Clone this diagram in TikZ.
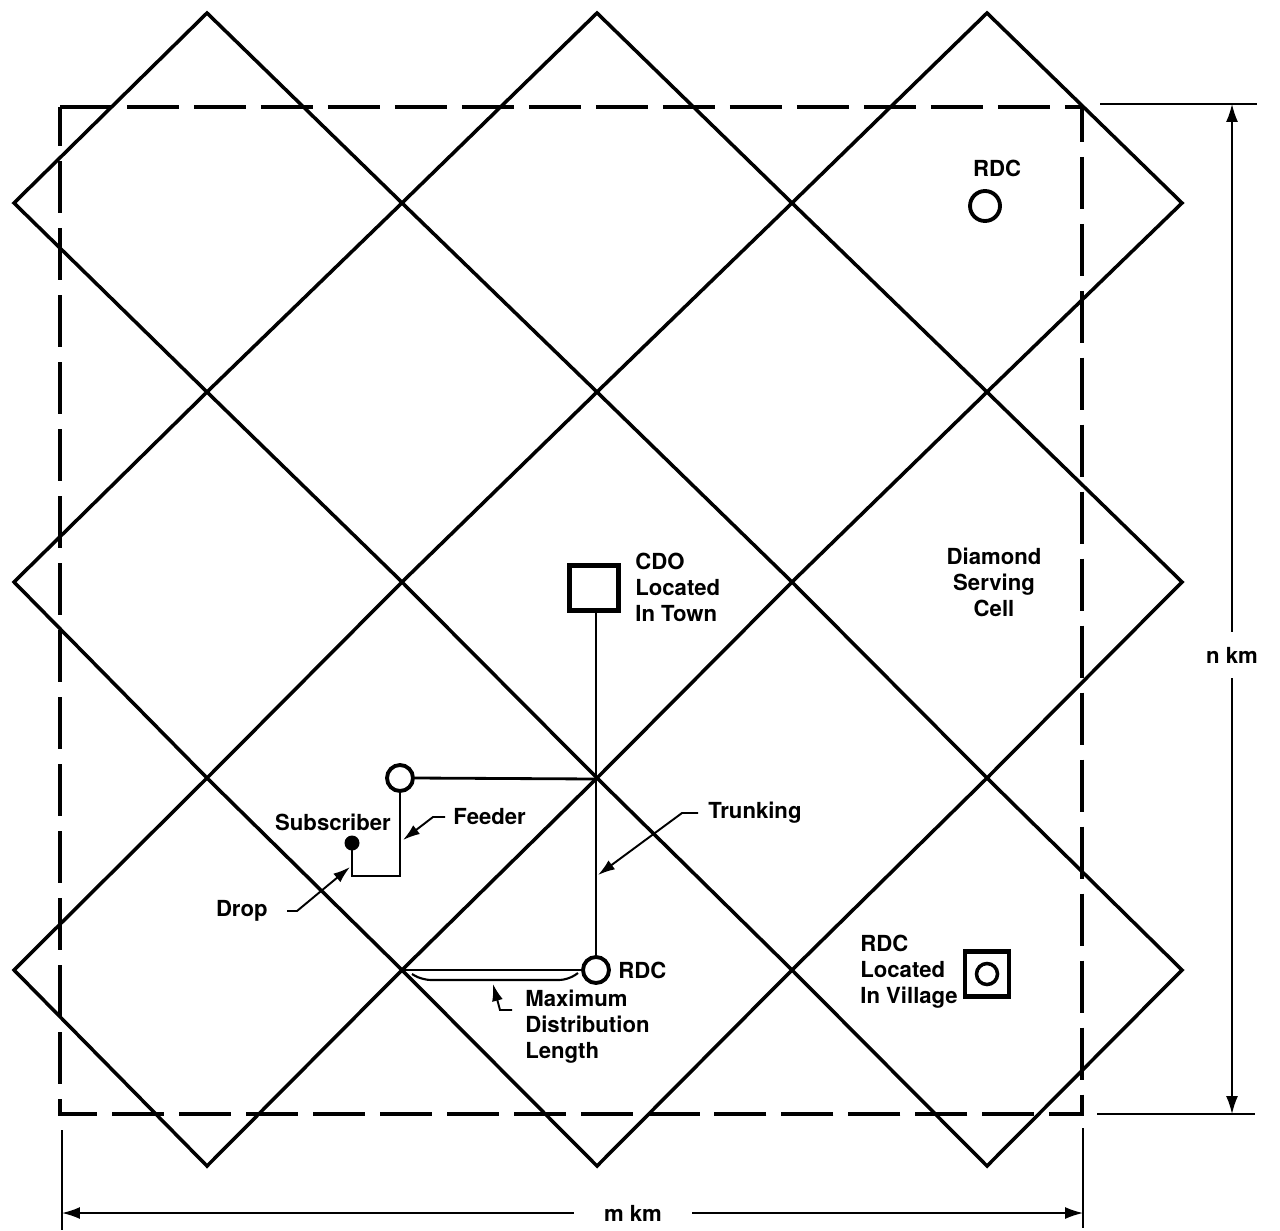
\documentclass[tikz,border=0pt]{standalone}
\usepackage{fontspec}
\setmainfont{TeX Gyre Heros}
\usetikzlibrary{arrows.meta}
\begin{document}
\begin{tikzpicture}[x=0.02cm,y=-0.02cm,
  grid/.style={line width=2pt, line join=miter},
  frame/.style={line width=2.4pt, dash pattern=on 1.04cm off 0.3cm},
  wire/.style={line width=1.6pt},
  lbl/.style={font=\bfseries\fontsize{12.6}{14.8}\selectfont, inner sep=0pt},
  leader/.style={line width=1.1pt, -{Latex[length=0.34cm,width=0.22cm]}},
  dimline/.style={line width=0.9pt},
  dimarr/.style={line width=0.9pt, -{Latex[length=0.36cm,width=0.24cm]}},
  office/.style={draw, line width=2.4pt, inner sep=0pt},
  rdc/.style={circle, draw, line width=2.2pt, inner sep=0pt, minimum size=0.52cm},
]
\useasboundingbox (0,0) rectangle (1280,1230);

% diamond serving cells
\foreach \xl/\xc/\xr in {14/207/402, 402/597/792, 792/987/1182}
  \foreach \yt/\yc/\yb in {13/203/392, 392/582/778, 778/970/1166}
    \draw[grid] (\xl,\yc) -- (\xc,\yt) -- (\xr,\yc) -- (\xc,\yb) -- cycle;

% dashed study area
\draw[frame] (60,107) -- (1082,107) -- (1082,1114) -- (60,1114) -- cycle;

% extension lines
\draw[dimline] (1100,104) -- (1257,104);
\draw[dimline] (1097,1114) -- (1255,1114);
\draw[dimline] (62,1130) -- (62,1230);
\draw[dimline] (1083,1128) -- (1083,1228);

% dimensions
\coordinate (ntop) at (1232,104);
\coordinate (nbot) at (1232,1114);
\coordinate (mleft) at (62,1213);
\coordinate (mright) at (1083,1213);
\node[lbl, inner xsep=0pt, inner ysep=0.3cm] (nkm) at (1232,655) {n km};
\node[lbl, inner xsep=0.6cm, inner ysep=0pt] (mkm) at (633,1213) {m km};
\draw[dimarr] (nkm) -- (ntop);
\draw[dimarr] (nkm) -- (nbot);
\draw[dimarr] (mkm) -- (mleft);
\draw[dimarr] (mkm) -- (mright);

% offices
\node[office, minimum width=0.98cm, minimum height=0.9cm] (cdo) at (594,588) {};
\node[lbl, anchor=north west, align=left] (cdolbl) at (635,553) {CDO\\Located\\In Town};

\node[rdc] (rdcb) at (596,970) {};
\node[lbl, anchor=west] (rdcblbl) at (618,970) {RDC};

\node[rdc] (rdcl) at (400,778) {};

\node[rdc, minimum size=0.6cm] (rdct) at (985,206) {};
\node[lbl] (rdctlbl) at (997,168) {RDC};

\node[office, minimum width=0.88cm, minimum height=0.9cm] (vbox) at (987,974) {};
\node[circle, draw, line width=2pt, inner sep=0pt, minimum size=0.42cm] (vrdc) at (987,974) {};
\node[lbl, anchor=north west, align=left] (vlbl) at (860,935) {RDC\\Located\\In Village};

\node[lbl, anchor=north, align=center] (cell) at (994,548) {Diamond\\Serving\\Cell};

% trunking and feeder network
\coordinate (jn) at (596,779);
\draw[wire] (rdcb.north) -- (rdcb.north |- cdo.south);
\draw[wire] (rdcl.east) -- (jn);
\node[circle, fill, inner sep=0pt, minimum size=0.3cm] (sub) at (352,843) {};
\coordinate (fc) at (400,876);
\coordinate (dc) at (352,876);
\draw[wire] (rdcl.south) -- (fc) -- (dc) -- (sub.center);

% labels with leaders
\node[lbl] (sublbl) at (333,822) {Subscriber};

\node[lbl, anchor=west] (feed) at (453,817) {Feeder};
\coordinate (feedtip) at (403,840);
\draw[leader] ([xshift=-0.16cm]feed.west) -- ++(-12,0) -- (feedtip);

\node[lbl, anchor=east] (drop) at (268,911) {Drop};
\coordinate (droptip) at (350,867);
\draw[leader] ([xshift=0.38cm]drop.east) -- ++(10,0) -- (droptip);

\node[lbl, anchor=west] (trunk) at (708,813) {Trunking};
\coordinate (trunktip) at (598,875);
\draw[leader] ([xshift=-0.2cm]trunk.west) -- ++(-16,0) -- (trunktip);

% maximum distribution length
\coordinate (mdX) at (402,970);
\draw[wire] (mdX) -- (rdcb.west);
\coordinate (mdA) at (412,974);
\coordinate (mdB) at (578,973);
\draw[line width=1.2pt, rounded corners=5pt] (mdA) -- (422,980) -- (568,980) -- (mdB);
\node[lbl, anchor=north west, align=left] (maxd) at (525,990) {Maximum\\Distribution\\Length};
\coordinate (mdtail) at (512,1010);
\coordinate (mdtip) at (493,984);
\draw[leader] (mdtail) -- ++(-12,0) -- (mdtip);
\end{tikzpicture}
\end{document}
